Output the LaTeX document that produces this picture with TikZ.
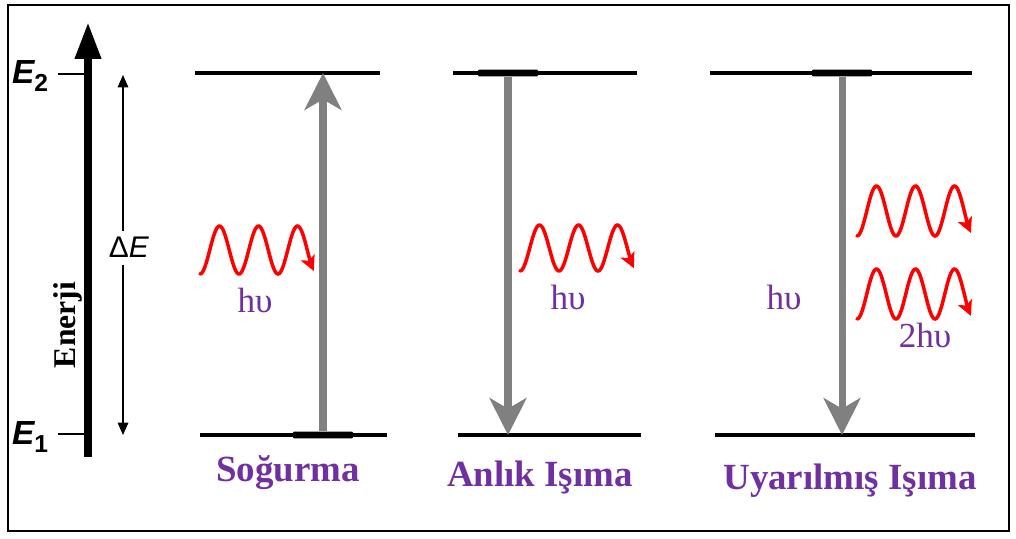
\documentclass[tikz,border=0pt]{standalone}
\usepackage{fontspec}
\setmainfont{Liberation Serif}
\newfontfamily\arialfont{Liberation Sans}
\usetikzlibrary{arrows.meta,positioning,calc}
\definecolor{Grape}{HTML}{7030A0}
\definecolor{PhotonRed}{HTML}{FF0000}
\definecolor{ArrowGrey}{HTML}{808080}

\begin{document}
\begin{tikzpicture}[x=0.02cm,y=-0.02cm,
  levelline/.style={fill=black,inner sep=0pt,minimum height=1.8pt},
  popbar/.style={fill=black,inner sep=0pt,minimum height=3.8pt,minimum width=1.2cm,rounded corners=0.6pt},
  trans/.style={line width=4pt,ArrowGrey,-{Stealth[length=21pt,width=21pt,inset=6pt]}},
  photon/.style={line width=2pt,PhotonRed,line cap=round,-{Stealth[length=8.5pt,width=8.5pt,inset=2pt]}},
  axisline/.style={line width=4.5pt,-{Triangle[length=21pt,width=14pt]}},
  hnu/.style={text=Grape,font=\fontsize{20}{24}\selectfont},
  title/.style={text=Grape,font=\bfseries\fontsize{21}{25}\selectfont},
  elabel/.style={font=\arialfont\bfseries\fontsize{19}{22}\selectfont,inner sep=1pt}
]
\useasboundingbox (0,0) rectangle (1016,538);
\draw[line width=1.4pt] (8,5) rectangle (1009,531);

% energy axis
\coordinate (axbot) at (88,457);
\coordinate (axtop) at (88,22);
\draw[axisline] (axbot) -- (axtop);
\node[elabel] (e2) at (30,76) {\itshape E\raisebox{-0.45ex}{\upshape\fontsize{14}{14}\selectfont 2}};
\node[elabel] (e1) at (30,437) {\itshape E\raisebox{-0.45ex}{\upshape\fontsize{14}{14}\selectfont 1}};
\draw[line width=1.3pt] ($(e2.east)+(8,-2)$) -- ($(e2 -| axbot)+(0,-2)$);
\draw[line width=1.3pt] ($(e1.east)+(8,-3)$) -- ($(e1 -| axbot)+(0,-3)$);
\node[rotate=90,font=\bfseries\fontsize{18}{22}\selectfont] (enerji) at (68,325) {Enerji};

% energy gap
\node[elabel,font=\arialfont\fontsize{17}{20}\selectfont] (dE) at (129,247) {Δ\textit{E}};
\coordinate (gtop) at (123,75);
\coordinate (gbot) at (123,435);
\draw[line width=0.8pt,-{Triangle[length=7pt,width=6pt]}] ($(gtop |- dE.north)+(0,-4)$) -- (gtop);
\draw[line width=0.8pt,-{Triangle[length=7pt,width=6pt]}] ($(gbot |- dE.south)+(0,6)$) -- (gbot);

% levels
\node[levelline,minimum width=3.7cm] (up1) at (287.5,73) {};
\node[levelline,minimum width=3.74cm] (lo1) at (293.5,435) {};
\node[levelline,minimum width=3.68cm] (up2) at (545,73) {};
\node[levelline,minimum width=3.66cm] (lo2) at (549.5,435) {};
\node[levelline,minimum width=5.24cm] (up3) at (841,73) {};
\node[levelline,minimum width=5.2cm] (lo3) at (845,435) {};
\node[popbar] (pop1) at (323,435) {};
\node[popbar] (pop2) at (508,73) {};
\node[popbar] (pop3) at (842,73) {};

% transitions
\draw[trans] (pop1) -- (pop1 |- up1);
\draw[trans] (pop2) -- (pop2 |- lo2);
\draw[trans] (pop3) -- (pop3 |- lo3);

% photons
\foreach \wx/\wy/\wa in {200/250/24, 520/248/23, 857/211/25, 857/294/25}
  \draw[photon] plot[domain=0:2.92,samples=90] ({\wx+39*\x},{\wy+\wa*cos(360*\x)});
\node[hnu] (hv1) at (255,300) {hυ};
\node[hnu] (hv2) at (568,297) {hυ};
\node[hnu] (hv3) at (784,297) {hυ};
\node[hnu] (hv4) at (925,335) {2hυ};

% captions
\node[title] (t1) at (288,473) {Soğurma};
\node[title] (t2) at (540,477) {Anlık Işıma};
\node[title] (t3) at (850,481) {Uyarılmış Işıma};
\end{tikzpicture}
\end{document}
